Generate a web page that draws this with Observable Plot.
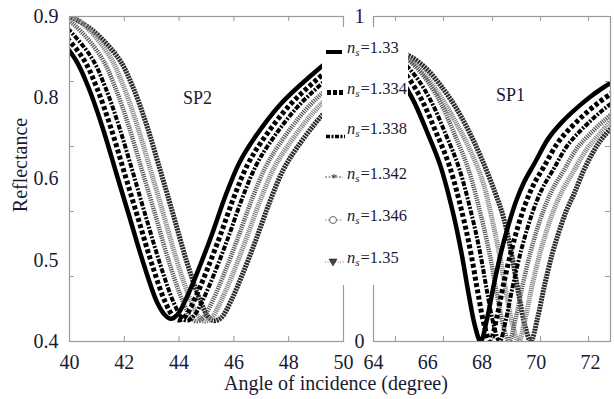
<!DOCTYPE html>
<html>
<head>
<meta charset="utf-8">
<script src="https://cdn.jsdelivr.net/npm/d3@7"></script>
<script src="https://cdn.jsdelivr.net/npm/@observablehq/plot@0.6"></script>
<style>
  body { margin: 0; background: #fff; }
  #wrap { position: relative; width: 614px; height: 399px; overflow: hidden; background: #fff;
          font-family: "Liberation Serif", serif; color: #1a1a33; }
  .panel { position: absolute; top: 0; }
  #legend { position: absolute; left: 322px; top: 27px; width: 86px; height: 258px; background: #fff; z-index: 5; }
  #legend .row { position: absolute; left: 25px; height: 20px; line-height: 20px; font-size: 16.5px; white-space: nowrap; }
  #legend .row i { font-style: italic; }
  #legend .row sub { font-style: italic; font-size: 11px; vertical-align: -3px; line-height: 0; margin-right: 1px; }
  #legend svg { position: absolute; left: 0; top: 0; }
  #xlabel { position: absolute; left: 186px; width: 300px; top: 372px; text-align: center; font-size: 20px; line-height: 22px; }
  #ylabel { position: absolute; left: -40px; top: 154px; width: 120px; text-align: center; font-size: 20px; line-height: 22px; transform: rotate(-90deg); }
</style>
</head>
<body>
<div id="wrap">
  <div id="left" class="panel" style="left:0px"></div>
  <div id="right" class="panel" style="left:300px"></div>
  <div id="legend"></div>
  <div id="xlabel">Angle of incidence (degree)</div>
  <div id="ylabel">Reflectance</div>
</div>
<script>
// ---------------- DATA ----------------
const seriesNames = ["1.33", "1.334", "1.338", "1.342", "1.346", "1.35"];

// SP2 panel (left): angle (degree) and reflectance per series
const sp2Angle133 = [38.2, 39.2, 40.2, 40.7, 41.2, 41.7, 42.2, 42.7, 43.2, 43.5, 43.7, 43.95, 44.3, 44.7, 45.2, 45.7, 46.2, 46.7, 47.7, 48.7, 49.7, 50.2];
const sp2R133     = [0.92, 0.885, 0.835, 0.79, 0.73, 0.66, 0.59, 0.52, 0.46, 0.44, 0.435, 0.442, 0.47, 0.51, 0.565, 0.625, 0.675, 0.71, 0.765, 0.805, 0.84, 0.855];
const sp2Angle1334 = [38.5, 39.5, 40.5, 41.0, 41.5, 42.0, 42.5, 43.0, 43.5, 43.8, 44.0, 44.25, 44.6, 45.0, 45.5, 46.0, 46.5, 47.0, 48.0, 49.0, 50.0, 50.5];
const sp2R1334     = [0.92, 0.885, 0.835, 0.79, 0.73, 0.66, 0.59, 0.52, 0.46, 0.438, 0.433, 0.44, 0.468, 0.508, 0.563, 0.622, 0.672, 0.707, 0.762, 0.802, 0.837, 0.852];
const sp2Angle1338 = [38.8, 39.8, 40.8, 41.3, 41.8, 42.3, 42.8, 43.3, 43.8, 44.1, 44.3, 44.55, 44.9, 45.3, 45.8, 46.3, 46.8, 47.3, 48.3, 49.3, 50.3, 50.8];
const sp2R1338     = [0.92, 0.887, 0.837, 0.792, 0.732, 0.662, 0.59, 0.52, 0.46, 0.437, 0.432, 0.44, 0.467, 0.506, 0.561, 0.62, 0.67, 0.705, 0.76, 0.8, 0.835, 0.85];
const sp2Angle1342 = [39.15, 40.15, 41.15, 41.65, 42.15, 42.65, 43.15, 43.65, 44.15, 44.45, 44.65, 44.9, 45.25, 45.65, 46.15, 46.65, 47.15, 47.65, 48.65, 49.65, 50.65, 51.15];
const sp2R1342     = [0.915, 0.888, 0.838, 0.793, 0.733, 0.663, 0.592, 0.52, 0.46, 0.436, 0.431, 0.438, 0.465, 0.505, 0.56, 0.618, 0.668, 0.703, 0.758, 0.798, 0.833, 0.848];
const sp2Angle1346 = [39.45, 40.45, 41.45, 41.95, 42.45, 42.95, 43.45, 43.95, 44.45, 44.75, 44.95, 45.2, 45.55, 45.95, 46.45, 46.95, 47.45, 47.95, 48.95, 49.95, 50.95, 51.45];
const sp2R1346     = [0.912, 0.89, 0.84, 0.795, 0.735, 0.665, 0.593, 0.52, 0.46, 0.436, 0.431, 0.437, 0.464, 0.503, 0.558, 0.616, 0.666, 0.7, 0.755, 0.795, 0.83, 0.845];
const sp2Angle135 = [39.8, 40.8, 41.8, 42.3, 42.8, 43.3, 43.8, 44.3, 44.8, 45.1, 45.3, 45.55, 45.9, 46.3, 46.8, 47.3, 47.8, 48.3, 49.3, 50.3, 51.3, 51.8];
const sp2R135     = [0.905, 0.88, 0.835, 0.793, 0.735, 0.665, 0.593, 0.52, 0.46, 0.436, 0.432, 0.437, 0.463, 0.502, 0.556, 0.614, 0.664, 0.698, 0.752, 0.792, 0.827, 0.842];

// SP1 panel (right)
const sp1Angle133 = [64.0, 64.45, 64.95, 65.45, 65.95, 66.45, 66.95, 67.25, 67.5, 67.75, 67.95, 68.2, 68.45, 68.75, 69.0, 69.25, 69.55, 69.95, 70.45, 70.95, 71.45, 71.95, 72.45, 72.95];
const sp1R133     = [0.905, 0.87, 0.815, 0.745, 0.65, 0.545, 0.39, 0.27, 0.15, 0.045, 0.0, 0.075, 0.18, 0.29, 0.365, 0.43, 0.49, 0.55, 0.625, 0.675, 0.715, 0.75, 0.78, 0.805];
const sp1Angle1334 = [64.0, 64.3, 64.8, 65.3, 65.8, 66.3, 66.8, 67.3, 67.6, 67.85, 68.1, 68.3, 68.55, 68.8, 69.1, 69.35, 69.6, 69.9, 70.3, 70.8, 71.3, 71.8, 72.3, 72.8];
const sp1R1334     = [0.915, 0.9, 0.86, 0.81, 0.74, 0.645, 0.54, 0.385, 0.268, 0.15, 0.045, 0.0, 0.075, 0.178, 0.285, 0.36, 0.423, 0.482, 0.54, 0.612, 0.66, 0.7, 0.735, 0.765];
const sp1Angle1338 = [64.0, 64.15, 64.65, 65.15, 65.65, 66.15, 66.65, 67.15, 67.65, 67.95, 68.2, 68.45, 68.65, 68.9, 69.15, 69.45, 69.7, 69.95, 70.25, 70.65, 71.15, 71.65, 72.15, 72.65, 73.15];
const sp1R1338     = [0.915, 0.91, 0.895, 0.855, 0.805, 0.735, 0.64, 0.535, 0.38, 0.265, 0.148, 0.045, 0.0, 0.074, 0.176, 0.282, 0.355, 0.417, 0.475, 0.532, 0.603, 0.65, 0.69, 0.725, 0.755];
const sp1Angle1342 = [64.0, 64.5, 65.0, 65.5, 66.0, 66.5, 67.0, 67.5, 68.0, 68.3, 68.55, 68.8, 69.0, 69.25, 69.5, 69.8, 70.05, 70.3, 70.6, 71.0, 71.5, 72.0, 72.5, 73.0];
const sp1R1342     = [0.91, 0.9, 0.885, 0.85, 0.8, 0.73, 0.635, 0.53, 0.375, 0.262, 0.146, 0.044, 0.0, 0.073, 0.174, 0.278, 0.35, 0.41, 0.468, 0.524, 0.594, 0.64, 0.68, 0.715];
const sp1Angle1346 = [64.0, 64.5, 65.0, 65.5, 66.0, 66.5, 67.0, 67.5, 68.0, 68.35, 68.65, 68.9, 69.15, 69.35, 69.6, 69.85, 70.15, 70.4, 70.65, 70.95, 71.35, 71.85, 72.35, 72.85];
const sp1R1346     = [0.92, 0.905, 0.885, 0.855, 0.81, 0.75, 0.68, 0.6, 0.5, 0.385, 0.265, 0.148, 0.044, 0.0, 0.072, 0.172, 0.275, 0.345, 0.405, 0.462, 0.52, 0.59, 0.64, 0.69];
const sp1Angle135 = [64.0, 64.5, 65.0, 65.5, 66.0, 66.5, 67.0, 67.5, 68.0, 68.5, 68.8, 69.1, 69.35, 69.6, 69.8, 70.05, 70.3, 70.6, 70.85, 71.1, 71.4, 71.8, 72.3, 72.8];
const sp1R135     = [0.91, 0.9, 0.89, 0.87, 0.835, 0.785, 0.725, 0.65, 0.56, 0.455, 0.38, 0.265, 0.148, 0.044, 0.0, 0.072, 0.17, 0.272, 0.34, 0.4, 0.455, 0.535, 0.61, 0.66];

// Axis ticks and labels
const sp2XTickMarks = [42, 44, 46, 48];
const sp2XTickLabels = [40, 42, 44, 46, 48, 50];
const sp2YTickMarks = [0.5, 0.6, 0.7, 0.8];
const sp2YLabelPos = [0.4, 0.525, 0.65, 0.775, 0.9];
const sp2YLabelText = ["0.4", "0.5", "0.6", "0.8", "0.9"];
const sp1XTickMarks = [64.81, 66.58, 68.39, 70.16, 71.93];
const sp1XTickLabels = [64, 66, 68, 70, 72];
const sp1YTickMarks = [0.2, 0.4, 0.6, 0.8];
const sp1YTickLabels = [0, 1];

// --------------- BUILD ----------------
const sp2Series = [
  [sp2Angle133, sp2R133], [sp2Angle1334, sp2R1334], [sp2Angle1338, sp2R1338],
  [sp2Angle1342, sp2R1342], [sp2Angle1346, sp2R1346], [sp2Angle135, sp2R135]
];
const sp1Series = [
  [sp1Angle133, sp1R133], [sp1Angle1334, sp1R1334], [sp1Angle1338, sp1R1338],
  [sp1Angle1342, sp1R1342], [sp1Angle1346, sp1R1346], [sp1Angle135, sp1R135]
];
function rows(series) {
  return series.map(([a, r], k) => a.map((v, i) => ({ns: seriesNames[k], angle: v, R: r[i]})));
}
const styles = [
  {stroke: "#000", strokeWidth: 4.5},
  {stroke: "#000", strokeWidth: 5, strokeDasharray: "4,2.5"},
  {stroke: "#000", strokeWidth: 4, strokeDasharray: "5,1.5,2,1.5"},
  {stroke: "#555", strokeWidth: 4.5, strokeDasharray: "1.2,1"},
  {stroke: "#8a8a8a", strokeWidth: 5, strokeDasharray: "1.2,0.8"},
  {stroke: "#2a2a2a", strokeWidth: 5, strokeDasharray: "2,0.8"}
];
function lineMarks(series) {
  const data = rows(series);
  const marks = [];
  for (let k = data.length - 1; k >= 0; k--) {
    marks.push(Plot.line(data[k], {x: "angle", y: "R", curve: "catmull-rom", clip: true, strokeLinecap: "butt", strokeLinejoin: "miter", ...styles[k]}));
  }
  return marks;
}
const frameColor = "#9a9a9a";
const textColor = "#1a1a33";
const fontFam = "'Liberation Serif', serif";
const baseStyle = {fontFamily: fontFam, fontSize: "20px", color: textColor, background: "transparent", overflow: "visible"};

const leftPlot = Plot.plot({
  width: 360, height: 399,
  marginLeft: 69, marginRight: 17, marginTop: 16, marginBottom: 58,
  x: {domain: [40, 50], label: null},
  y: {domain: [0.4, 0.9], label: null},
  style: baseStyle,
  marks: [
    ...lineMarks(sp2Series),
    Plot.frame({stroke: frameColor, strokeWidth: 1.2}),
    Plot.tickX(sp2XTickMarks, {x: d => d, insetTop: 320, stroke: frameColor}),
    Plot.tickX(sp2XTickMarks, {x: d => d, insetBottom: 320, stroke: frameColor}),
    Plot.tickY(sp2YTickMarks, {y: d => d, insetRight: 269, stroke: frameColor}),
    Plot.axisX({ticks: sp2XTickLabels, tickSize: 0, tickPadding: 13, tickFormat: d => String(d), label: null, fontFamily: fontFam}),
    Plot.axisY({ticks: sp2YLabelPos, tickSize: 0, tickPadding: 11, tickFormat: d => sp2YLabelText[sp2YLabelPos.indexOf(d)], label: null, fontFamily: fontFam}),
    Plot.text(["SP2"], {x: 44.67, y: 0.775, text: d => d, fontSize: 18, fill: textColor, fontFamily: fontFam})
  ]
});
document.getElementById("left").appendChild(leftPlot);

const rightPlot = Plot.plot({
  width: 314, height: 399,
  marginLeft: 73, marginRight: 4, marginTop: 16, marginBottom: 58,
  x: {domain: [64, 72.74], label: null},
  y: {domain: [0, 1], label: null},
  style: baseStyle,
  marks: [
    ...lineMarks(sp1Series),
    Plot.frame({stroke: frameColor, strokeWidth: 1.2}),
    Plot.tickX(sp1XTickMarks, {x: d => d, insetTop: 320, stroke: frameColor}),
    Plot.tickX(sp1XTickMarks, {x: d => d, insetBottom: 320, stroke: frameColor}),
    Plot.tickY(sp1YTickMarks, {y: d => d, insetLeft: 232, stroke: frameColor}),
    Plot.axisX({ticks: sp1XTickLabels, tickSize: 0, tickPadding: 13, tickFormat: d => String(d), label: null, fontFamily: fontFam}),
    Plot.axisY({ticks: sp1YTickLabels, tickSize: 0, tickPadding: 9, tickFormat: d => String(d), label: null, fontFamily: fontFam}),
    Plot.text(["SP1"], {x: 69.05, y: 0.757, text: d => d, fontSize: 18, fill: textColor, fontFamily: fontFam})
  ]
});
document.getElementById("right").appendChild(rightPlot);

// --------------- LEGEND ----------------
const legend = document.getElementById("legend");
const rowTops = [10.5, 52, 92, 137, 179, 220.5];
const ns = d3.create("svg").attr("width", 86).attr("height", 258);
const symY = [25, 65.5, 109.5, 150, 193, 235];
ns.append("line").attr("x1", 4).attr("x2", 20).attr("y1", symY[0]).attr("y2", symY[0]).attr("stroke", "#000").attr("stroke-width", 4);
ns.append("line").attr("x1", 5).attr("x2", 21).attr("y1", symY[1]).attr("y2", symY[1]).attr("stroke", "#000").attr("stroke-width", 5).attr("stroke-dasharray", "4,2");
ns.append("line").attr("x1", 4).attr("x2", 23).attr("y1", symY[2]).attr("y2", symY[2]).attr("stroke", "#000").attr("stroke-width", 3.5).attr("stroke-dasharray", "4,1.5,2,1.5");
ns.append("line").attr("x1", 3).attr("x2", 21).attr("y1", symY[3]).attr("y2", symY[3]).attr("stroke", "#555").attr("stroke-width", 1).attr("stroke-dasharray", "2,1.5");
ns.append("text").attr("x", 12).attr("y", symY[3] + 5).attr("text-anchor", "middle").attr("font-size", 13).attr("fill", "#333").text("*");
ns.append("line").attr("x1", 3).attr("x2", 20).attr("y1", symY[4]).attr("y2", symY[4]).attr("stroke", "#777").attr("stroke-width", 1).attr("stroke-dasharray", "1.5,1.5");
ns.append("circle").attr("cx", 11).attr("cy", symY[4]).attr("r", 3.5).attr("fill", "#fff").attr("stroke", "#555").attr("stroke-width", 0.9);
ns.append("line").attr("x1", 3).attr("x2", 22).attr("y1", symY[5]).attr("y2", symY[5]).attr("stroke", "#777").attr("stroke-width", 1).attr("stroke-dasharray", "1,1.5");
ns.append("path").attr("d", `M7,${symY[5] - 3}L15,${symY[5] - 3}L11,${symY[5] + 4}Z`).attr("fill", "#444").attr("stroke", "#222").attr("stroke-width", 0.6);
legend.appendChild(ns.node());
seriesNames.forEach((name, i) => {
  const r = document.createElement("div");
  r.className = "row";
  r.style.top = rowTops[i] + "px";
  r.innerHTML = `<i>n</i><sub>s</sub>=${name}`;
  legend.appendChild(r);
});
</script>
</body>
</html>
